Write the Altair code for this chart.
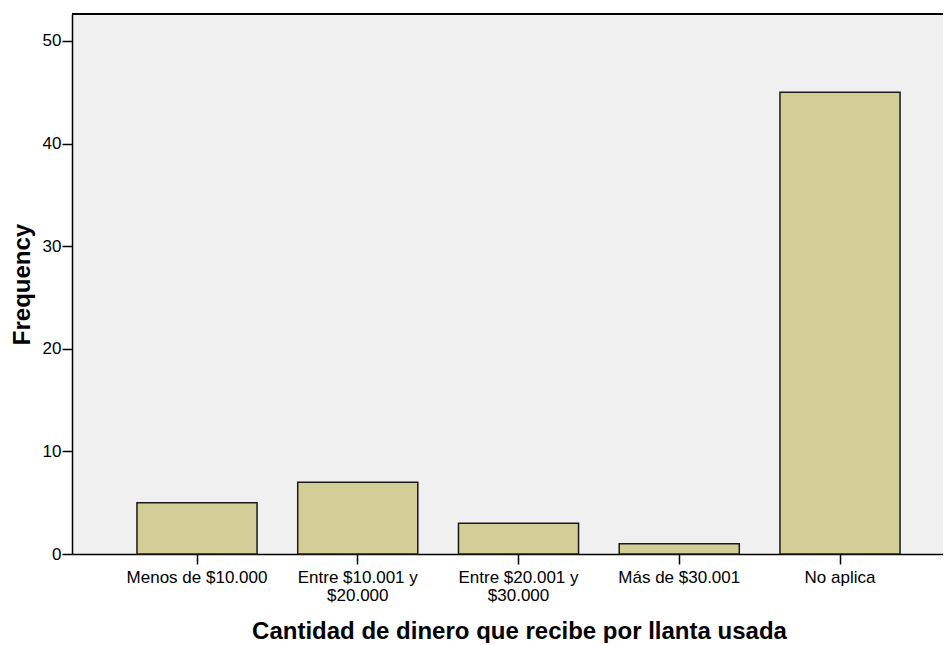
import altair as alt
import pandas as pd

categories = ["Menos de $10.000", "Entre $10.001 y\n$20.000", "Entre $20.001 y\n$30.000", "Más de $30.001", "No aplica"]
frequencies = [5, 7, 3, 1, 45]
y_ticks = [0, 10, 20, 30, 40, 50]

df = pd.DataFrame({"cat": categories, "freq": frequencies})

font = "Liberation Sans"

bars = alt.Chart(df).mark_bar(
    fill="#D3CE98", stroke="#1a1a1a", strokeWidth=1.5
).encode(
    x=alt.X("cat:N", sort=categories,
            scale=alt.Scale(paddingInner=0.253, paddingOuter=0.3357, align=0.602),
            axis=alt.Axis(title="Cantidad de dinero que recibe por llanta usada",
                          labelAngle=0, labelExpr="split(datum.label, '\\n')",
                          labelFont=font, labelFontSize=17, labelColor="black",
                          labelLineHeight=18, labelPadding=5, labelBaseline="top",
                          tickSize=10, tickColor="black", tickWidth=1.5,
                          domainColor="black", domainWidth=1.5,
                          titleFont=font, titleFontSize=24, titleFontWeight="bold",
                          titleColor="black", titleX=447, titleY=84,
                          titleBaseline="alphabetic", titleAlign="center")),
    y=alt.Y("freq:Q",
            scale=alt.Scale(domain=[0, 52.63], nice=False),
            axis=alt.Axis(title="Frequency", values=y_ticks, grid=False,
                          labelFont=font, labelFontSize=17, labelColor="black",
                          labelPadding=1,
                          tickSize=10, tickColor="black", tickWidth=1.5,
                          domainColor="black", domainWidth=1.5,
                          titleFont=font, titleFontSize=24, titleFontWeight="bold",
                          titleColor="black", titleX=-50, titleY=270,
                          titleAngle=270, titleBaseline="middle", titleAlign="center")),
)

top_border = alt.Chart(df).mark_rule(color="black", strokeWidth=1.5).encode(
    x=alt.value(0), x2=alt.value(871), y=alt.value(0)
)

chart = alt.layer(bars, top_border).properties(
    width=871, height=540,
    autosize=alt.AutoSizeParams(type="none"),
    padding={"left": 64, "top": 6, "right": 0, "bottom": 89},
    background="white",
).configure_view(
    fill="#F0F0F0", stroke=None
)

chart.save("out.html", embed_options={"renderer": "svg", "actions": False})
